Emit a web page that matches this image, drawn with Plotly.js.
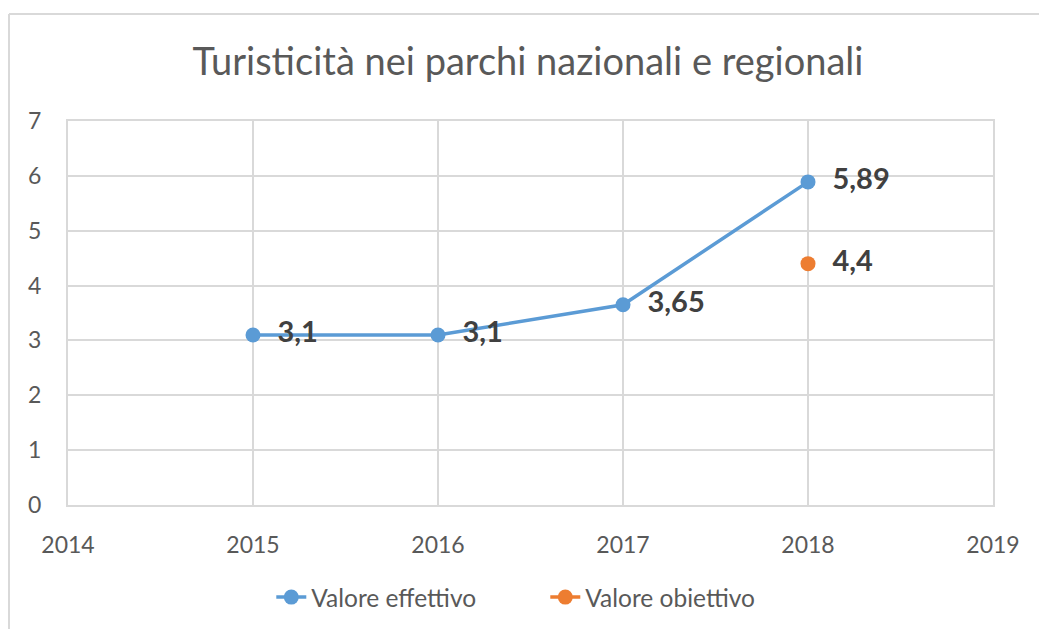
<!DOCTYPE html>
<html>
<head>
<meta charset="utf-8">
<script src="https://cdn.plot.ly/plotly-3.0.1.min.js"></script>
<style>html,body{margin:0;padding:0;background:#fff;}#chart{width:1039px;height:629px;}</style>
</head>
<body>
<div id="chart"></div>
<script>
const years = [2015, 2016, 2017, 2018];
const effettivo = [3.1, 3.1, 3.65, 5.89];
const obiettivoYears = [2018];
const obiettivo = [4.4];
const xTicks = [2014, 2015, 2016, 2017, 2018, 2019];
const yTicks = [0, 1, 2, 3, 4, 5, 6, 7];

const fmt = v => '\u00a0\u00a0' + String(v).replace('.', ',');
const FONT = 'Lato, "Noto Sans", sans-serif';

const traces = [
  {
    x: years, y: effettivo, name: 'Valore effettivo',
    mode: 'lines+markers+text',
    text: effettivo.map(fmt), textposition: 'middle right',
    textfont: {family: FONT, size: 29, color: '#404040', weight: 'bold'},
    line: {color: '#5b9bd5', width: 3.5},
    marker: {color: '#5b9bd5', size: 15},
    cliponaxis: false, hoverinfo: 'skip'
  },
  {
    x: obiettivoYears, y: obiettivo, name: 'Valore obiettivo',
    mode: 'lines+markers+text',
    text: obiettivo.map(fmt), textposition: 'middle right',
    textfont: {family: FONT, size: 29, color: '#404040', weight: 'bold'},
    line: {color: '#ed7d31', width: 3.5},
    marker: {color: '#ed7d31', size: 15},
    cliponaxis: false, hoverinfo: 'skip'
  }
];

const layout = {
  width: 1039, height: 629,
  margin: {l: 68, r: 46, t: 121, b: 124, autoexpand: false},
  paper_bgcolor: '#fff', plot_bgcolor: '#fff',
  font: {family: FONT, color: '#595959'},
  title: {text: 'Turisticità nei parchi nazionali e regionali', font: {family: FONT, size: 38, color: '#595959'},
          x: 528/1039, xanchor: 'center', y: 1 - 62/629, yanchor: 'middle'},
  xaxis: {range: [2014, 2019], tickvals: xTicks, ticktext: xTicks.map(String),
          showgrid: true, gridcolor: '#d9d9d9', gridwidth: 2,
          showline: true, linecolor: '#d9d9d9', linewidth: 2, mirror: true,
          zeroline: false, ticks: '', ticklabelstandoff: 18,
          tickfont: {family: FONT, size: 23, color: '#595959'}},
  yaxis: {range: [0, 7], tickvals: yTicks, ticktext: yTicks.map(String),
          showgrid: true, gridcolor: '#d9d9d9', gridwidth: 2,
          showline: true, linecolor: '#d9d9d9', linewidth: 2, mirror: true,
          zeroline: false, ticks: '', ticklabelstandoff: 20,
          tickfont: {family: FONT, size: 23, color: '#595959'}},
  showlegend: true,
  legend: {orientation: 'h', x: 0.516, xanchor: 'center', y: -0.24, yanchor: 'middle',
           font: {family: FONT, size: 24.5, color: '#595959'},
           entrywidth: 229, entrywidthmode: 'pixels'},
  shapes: [
    {type: 'line', xref: 'paper', yref: 'paper', x0: -0.0638, x1: 1.06, y0: 1.2786, y1: 1.2786, line: {color: '#d9d9d9', width: 2}},
    {type: 'line', xref: 'paper', yref: 'paper', x0: -0.0638, x1: -0.0638, y0: 1.2786, y1: -0.35, line: {color: '#d9d9d9', width: 2}}
  ]
};

Plotly.newPlot('chart', traces, layout, {displayModeBar: false, staticPlot: true});
</script>
</body>
</html>
